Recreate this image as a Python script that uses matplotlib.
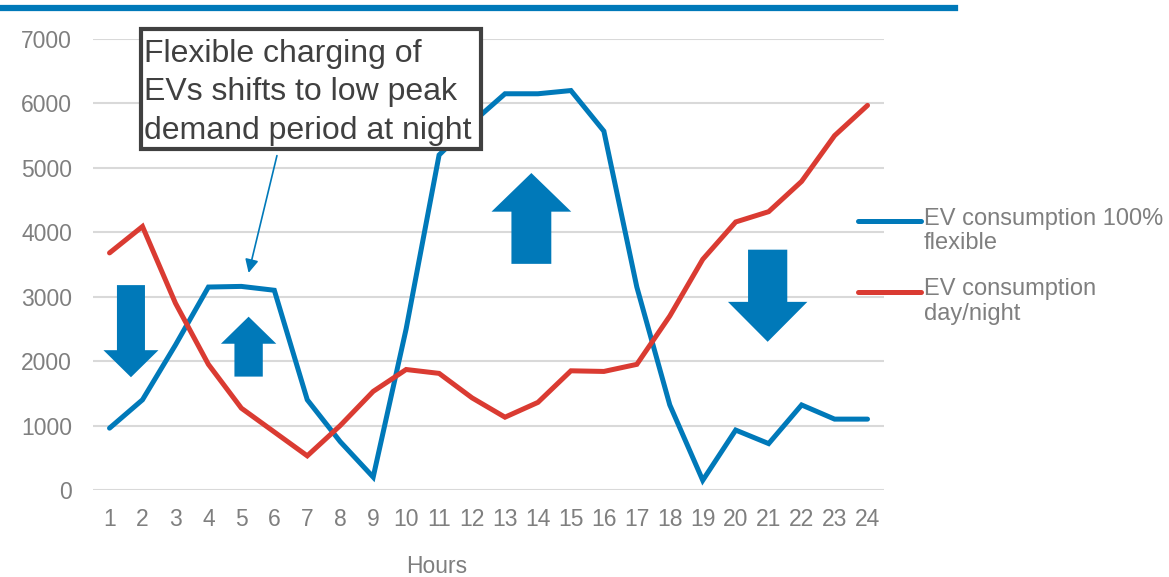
import numpy as np
import matplotlib.pyplot as plt
from matplotlib.patches import Polygon, Rectangle

plt.rcParams['font.family'] = ['Liberation Sans', 'DejaVu Sans']

hours = list(range(1, 25))
flexible = [960, 1400, 2250, 3150, 3160, 3100, 1400, 750, 200, 2500, 5200, 5700,
            6150, 6150, 6200, 5570, 3150, 1320, 150, 930, 720, 1320, 1100, 1100]
day_night = [3680, 4090, 2900, 1950, 1270, 900, 530, 1000, 1530, 1870, 1810, 1430,
             1130, 1360, 1850, 1840, 1950, 2700, 3580, 4160, 4320, 4790, 5500, 5970]
series_labels = ['EV consumption 100%\nflexible', 'EV consumption\nday/night']

blue = '#0079b9'
red = '#da3b32'
grey = '#7f7f7f'

fig = plt.figure(figsize=(11.69, 5.77), dpi=100)
ax = fig.add_axes([0.0796, 0.1508, 0.6766, 0.7816])

# horizontal rule at the very top
fig.add_artist(plt.Line2D([0, 0.817], [0.986, 0.986], color=blue, lw=4.5,
                          transform=fig.transFigure))

ax.plot(hours, flexible, color=blue, lw=3.6, solid_joinstyle='miter',
        solid_capstyle='round', zorder=3)
ax.plot(hours, day_night, color=red, lw=3.6, solid_joinstyle='miter',
        solid_capstyle='round', zorder=3)

ax.set_xlim(0.5, 24.5)
ax.set_ylim(0, 7000)
ax.set_xticks(hours)
ax.set_yticks(range(0, 7001, 1000))
ax.grid(axis='y', color='#d9d9d9', lw=1.5)
ax.set_axisbelow(True)
for s in ax.spines.values():
    s.set_visible(False)
ax.tick_params(length=0, labelsize=16.5, labelcolor=grey)
ax.tick_params(axis='y', pad=15)
ax.tick_params(axis='x', pad=13)
ax.set_xlabel('Hours', fontsize=16.5, color=grey)
ax.xaxis.set_label_coords(0.434, -0.145)

# block arrows: (x centre, tail, tip, shaft width, head width, head length)
blocks = [(1.65, 3180, 1750, 0.85, 1.67, 420),
          (5.22, 1760, 2690, 0.86, 1.68, 420),
          (13.8, 3510, 4920, 1.21, 2.42, 600),
          (20.97, 3730, 2300, 1.19, 2.41, 620)]
for xc, tail, tip, sw, hw, hl in blocks:
    d = 1 if tip > tail else -1
    base = tip - d * hl
    pts = [(xc - sw / 2, tail), (xc - sw / 2, base), (xc - hw / 2, base), (xc, tip),
           (xc + hw / 2, base), (xc + sw / 2, base), (xc + sw / 2, tail)]
    ax.add_patch(Polygon(pts, closed=True, color=blue, lw=0, zorder=4))

# callout box + text
ax.add_patch(Rectangle((1.97, 5300), 12.28 - 1.97, 7155 - 5300, fc='white',
                       ec='#404040', lw=3, zorder=5, clip_on=False))
ax.text(2.06, 7000, 'Flexible charging of\nEVs shifts to low peak\ndemand period at night',
        fontsize=23, color='#404040', va='top', ha='left', linespacing=1.36,
        zorder=6, clip_on=False)
ax.annotate('', xy=(5.22, 3370), xytext=(6.08, 5190),
            arrowprops=dict(arrowstyle='-|>', color=blue, lw=1.2, mutation_scale=20,
                            shrinkA=0, shrinkB=0))

# legend, handle level with first text line
for i, (lab, col) in enumerate(zip(series_labels, [blue, red])):
    y = 1 - (221 + 71 * i) / 577
    fig.add_artist(plt.Line2D([858 / 1169, 921 / 1169], [y, y], color=col, lw=3.6,
                              solid_capstyle='round', transform=fig.transFigure))
    fig.text(924 / 1169, y + 13.5 / 577, lab, fontsize=17, color=grey, va='top',
             ha='left', linespacing=1.17)

fig.savefig('out.png', dpi=100)
